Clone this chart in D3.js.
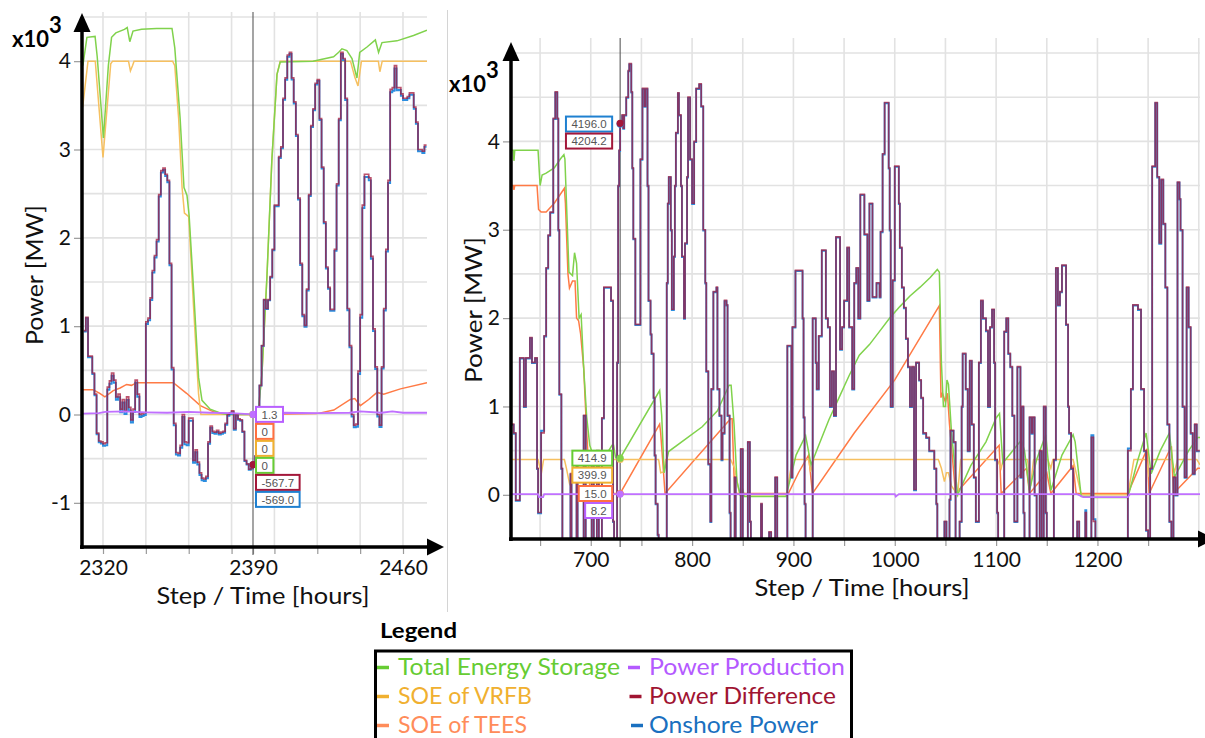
<!DOCTYPE html>
<html>
<head>
<meta charset="utf-8">
<script src="https://cdn.jsdelivr.net/npm/d3@7"></script>
<style>
  body { margin: 0; background: #fff; }
  svg { display: block; }
</style>
</head>
<body>
<svg id="chart" width="1205" height="738"></svg>
<script>
// ---------------------------------------------------------------------------
// Data (MW). Step series: power difference per hour; storage series are
// [hour, MW] breakpoints joined by straight segments.
// Onshore power = power difference - power production.
// ---------------------------------------------------------------------------

// Left panel: hours 2311 .. 2471
const leftStartHour = 2311;
const leftDifference = [
  950, 1100, 660, 660, 470, 230, -210, -300, -310, -330,
  -320, 310, 380, 470, 390, 200, 230, 60, 170, 40,
  200, 80, -60, 60, 390, 230, 0, 10, 20, 1050,
  1090, 1320, 1630, 1800, 1980, 2490, 2760, 2790, 2720, 2650,
  1710, 530, -100, -430, -440, -350, 0, -310, -320, -40,
  -40, -520, -400, -540, -660, -720, -730, -700, -310, -130,
  -190, -200, -180, -210, -200, -190, -100, 0, 20, 40,
  -160, 0, -50, -60, -190, -520, -560, -620, -610, -567.7,
  -470, 0, 330, 780, 1300, 1200, 1300, 1560, 1870, 2370,
  2370, 2920, 3030, 3580, 3810, 4070, 4100, 3810, 3540, 3170,
  2450, 1710, 1130, 1010, 1420, 2490, 3270, 3460, 3750, 3790,
  3350, 2800, 2180, 1670, 1440, 1190, 1190, 1870, 2610, 3350,
  4100, 4030, 3580, 1200, 780, 0, -120, -110, 490, 1130,
  2370, 2720, 2720, 2680, 1790, 970, 540, 0, -120, 540,
  1200, 1870, 2650, 3680, 3700, 3950, 3700, 3700, 3630, 3580,
  3580, 3600, 3640, 3640, 3480, 3310, 3000, 3000, 2980, 3050,
  3050
];
const leftTotal = [
  [2310.6, 3950], [2312.5, 4270], [2316.3, 4280], [2317.3, 4050], [2320.2, 3130],
  [2322.5, 3950], [2324, 4270], [2326, 4320], [2330, 4360], [2331.3, 4380],
  [2332.5, 4220], [2334, 4340], [2338, 4360], [2345, 4370], [2352.2, 4370],
  [2353.5, 4150], [2356, 3350], [2357.8, 2570], [2359.2, 2480], [2360.2, 2250],
  [2362.3, 1400], [2364.6, 420], [2366.2, 160], [2370, 60], [2375, 15],
  [2378, 0], [2390, 0], [2392.3, 0], [2394.2, 470], [2396.5, 1560],
  [2398.8, 2880], [2401.2, 3850], [2402.7, 3990], [2418, 4000], [2427.6, 4050],
  [2430, 4100], [2431.5, 4140], [2433.8, 4120], [2436.2, 4030], [2438.5, 3810],
  [2439.8, 4100], [2443.2, 4160], [2447.1, 4240], [2448.6, 4100], [2450.2, 4210],
  [2457.2, 4230], [2464.9, 4290], [2471.2, 4350]
];
const leftVRFB = [
  [2310.5, 3480], [2313, 4000], [2316.4, 4000], [2320, 2910], [2323.6, 3970],
  [2324.5, 4000], [2331.9, 4000], [2332.8, 3890], [2333.8, 3950], [2334.5, 4000],
  [2352.5, 4000], [2353.5, 3950], [2355.3, 3350], [2356.9, 2570], [2358, 2280],
  [2360, 2240], [2362.3, 1200], [2364.6, 230], [2365.7, 0], [2390, 0],
  [2392.3, 0], [2394.2, 470], [2396.5, 1560], [2398.8, 2880], [2401.2, 3850],
  [2402.7, 4000], [2435.5, 4000], [2437.5, 3820], [2439, 3720], [2440.6, 4000],
  [2448.5, 4000], [2449.2, 3880], [2450.3, 4000], [2471.2, 4000]
];
const leftTEES = [
  [2310.6, 280], [2315.4, 280], [2318.5, 240], [2320.9, 200], [2324.8, 270],
  [2328, 300], [2331, 340], [2333.3, 330], [2335.7, 360], [2352.8, 360],
  [2359, 240], [2365.4, 100], [2371.6, 30], [2377.8, 0], [2390, 0],
  [2419.9, 10], [2427.7, 50], [2435.4, 170], [2437.5, 180], [2440.1, 100],
  [2444, 170], [2447.9, 250], [2451, 230], [2458.8, 290], [2471.2, 360]
];
const leftProduction = [
  [2310.6, 10], [2318, 15], [2321, 30], [2330, 35], [2340, 25], [2350, 20],
  [2360, 30], [2370, 20], [2380, 15], [2388, 5], [2390, 1.3], [2395, 5],
  [2405, 20], [2420, 15], [2435, 20], [2440, 35], [2450, 20], [2455, 35],
  [2460, 20], [2471.2, 20]
];

// Right panel: hours 621 .. 1301
const rightDifference = [
  [621, 800], [624, 700], [626, -60], [630, 1550], [634, 1000], [636, 1550], [640, 1780],
  [642, 1500], [645, 1550], [647, 300], [648, -200], [651, 700], [654, 1800], [656, 2570],
  [658, 2940], [660, 3200], [663, 4260], [665, 4560], [667, 4260], [668, 3000], [669, 1140],
  [671, 300], [672, -700], [680, 240], [681, -700], [686, 430], [687, -700], [693, 900],
  [695, -700], [701, 350], [703, -700], [706, 500], [708, -700], [711, 870], [713, 2350],
  [720, 2200], [722, -300], [723, -700], [726, 1500], [727, 3500], [728, 3900], [729, 4204.2],
  [731, 4300], [732, 4150], [733, 4300], [735, 4500], [737, 4800], [738, 4880], [740, 4560],
  [741, 3700], [742, 2900], [744, 1930], [749, 3800], [751, 4600], [753, 4400], [754, 4600],
  [756, 3500], [757, 2200], [759, 1820], [760, 1600], [762, 1100], [763, 450], [764, -100],
  [766, -450], [767, -700], [775, 2400], [776, 3300], [777, 3600], [779, 3000], [780, 2100],
  [782, 2700], [783, 3500], [784, 4100], [786, 4550], [787, 4300], [789, 3500], [790, 2700],
  [792, 2000], [793, 2850], [795, 3600], [796, 4500], [798, 3800], [800, 3300], [802, 4000],
  [804, 4600], [807, 4650], [809, 4400], [811, 3000], [813, 2400], [814, 1400], [816, 350],
  [818, -300], [819, 1200], [821, 2300], [824, 2350], [825, 1200], [827, 900], [829, 400],
  [830, 700], [832, 2200], [834, 2150], [835, 900], [837, -200], [838, -700], [842, 200],
  [843, -700], [848, 520], [850, -700], [855, 600], [857, -300], [858, -700], [868, -100],
  [869, -700], [876, -420], [878, -700], [882, 200], [884, -700], [894, 1690], [898, 200],
  [899, 1900], [902, 2540], [909, 2000], [910, 880], [911, -100], [912, -700], [919, 2000],
  [922, 1500], [923, 1200], [925, 1800], [928, 2770], [932, 2000], [934, 1900], [936, 1000],
  [938, 1400], [940, 900], [942, 2920], [946, 1650], [948, 1900], [950, 2200], [953, 2800],
  [955, 1900], [958, 1200], [960, 2400], [962, 2570], [964, 2000], [966, 3400], [970, 2950],
  [973, 2200], [975, 3300], [978, 2240], [982, 2400], [985, 2240], [986, 2980], [988, 3860],
  [990, 4440], [994, 3700], [995, 3000], [996, 1000], [998, 2430], [1000, 3720], [1004, 3300],
  [1005, 2800], [1007, 2350], [1009, 2120], [1011, 1770], [1013, 1450], [1015, 1000],
  [1017, 1450], [1019, 60], [1021, 1500], [1024, 1300], [1026, 1100], [1028, 700], [1031, 650],
  [1034, 500], [1037, 500], [1039, 300], [1041, -100], [1042, -700], [1049, -300], [1051, -700],
  [1054, -50], [1055, 730], [1058, 600], [1060, -700], [1064, -300], [1066, 1000], [1067, 1600],
  [1070, 1200], [1072, 500], [1074, 1520], [1076, 800], [1078, 200], [1080, -300], [1083, 1500],
  [1085, 2200], [1087, 2000], [1090, 1860], [1092, 1000], [1094, 1900], [1096, 2100],
  [1098, 1500], [1099, 400], [1101, -200], [1102, -700], [1108, 1850], [1110, 2000],
  [1112, 1600], [1114, 1450], [1116, 900], [1118, -300], [1121, 1450], [1124, 200], [1125, 1000],
  [1127, -200], [1128, -700], [1133, 880], [1135, 700], [1136, 880], [1138, 0], [1140, -700],
  [1143, 500], [1145, -500], [1147, 1000], [1149, -200], [1150, -700], [1157, 400], [1159, 2570],
  [1161, 2150], [1163, 2300], [1165, 2600], [1169, 1930], [1171, 1000], [1172, 700], [1174, 300],
  [1176, -600], [1180, -300], [1182, -700], [1188, -200], [1189, -700], [1194, 650], [1196, -300],
  [1198, -700], [1230, 500], [1233, 1200], [1235, 2150], [1240, 2100], [1243, 1200], [1246, 500],
  [1248, -400], [1250, -500], [1252, 300], [1254, 3720], [1257, 4440], [1259, 3600], [1261, 2850],
  [1263, 3570], [1265, 3070], [1267, 2350], [1269, 800], [1271, -300], [1273, -500], [1275, 200],
  [1277, 0], [1279, 3540], [1281, 3350], [1282, 3000], [1284, 1000], [1286, 200], [1288, 2350],
  [1290, 1900], [1292, 700], [1294, 240], [1296, 800], [1298, 500], [1301, 500]
];
const rightTotal = [
  [621.3, 3900], [623.5, 3900], [624.2, 3780], [625, 3900], [648, 3900], [650, 3500],
  [652, 3620], [656, 3640], [664, 3700], [670, 3800], [673.5, 3850], [674.5, 3800],
  [678.5, 2520], [682, 2480], [684, 2740], [686, 2620], [688.5, 2000], [690.5, 2040],
  [693, 1440], [696, 880], [699, 560], [702, 460], [710, 450], [716, 470], [721, 560],
  [722.5, 560], [724.5, 420], [729, 414.9], [768, 1180], [770, 900], [772.4, 250],
  [776.8, 490], [810, 770], [825, 950], [836.5, 1240], [838.5, 1240], [841.4, 800],
  [844.3, 150], [848, -20], [850, 70], [851.5, -20], [892.7, -20], [902.6, 450], [912, 670],
  [917.4, 340], [925, 560], [935, 850], [945, 1100], [955, 1350], [965, 1580], [975, 1700],
  [985, 1850], [995, 2000], [1005, 2130], [1015, 2250], [1025, 2350], [1035, 2460],
  [1042, 2550], [1044, 2520], [1046, 1500], [1048, 1000], [1050, 1000], [1051.5, 1300],
  [1053, 1250], [1056, 700], [1062, 0], [1075, 330], [1090, 600], [1100, 870],
  [1103.4, 920], [1106.6, 360], [1115, 480], [1125, 620], [1128, 500], [1133, 50],
  [1140, 400], [1149, 680], [1154, 50], [1165, 450], [1176, 680], [1178, 600], [1184, -20],
  [1194, -20], [1195, 50], [1196, -30], [1230, -30], [1240, 400], [1248, 700], [1253, 240],
  [1262, 500], [1271, 700], [1276, 200], [1290, 500], [1299, 650], [1301.2, 650]
];
const rightVRFB = [
  [621.3, 400], [648, 400], [650, 300], [651.5, 260], [653.5, 400], [674, 400], [676, 300],
  [679, 130], [681, 200], [684, 400], [729, 399.9], [767, 400], [769, 250], [772, 260],
  [774, 400], [838, 400], [842, 300], [847, 0], [893, 0], [899, 400], [915, 400], [917, 260],
  [920, 400], [1043, 400], [1046, 300], [1049, 150], [1051, 250], [1053, 250], [1056, 100],
  [1062, 0], [1065, 400], [1101, 400], [1105, 300], [1107, 400], [1131, 400], [1134, 100],
  [1137, 400], [1151, 400], [1154, 300], [1156, 400], [1176, 400], [1184, 0], [1230, 0],
  [1236, 400], [1248, 400], [1251, 200], [1255, 400], [1273, 400], [1276, 250], [1279, 400],
  [1298, 400], [1301.2, 340]
];
const rightTEES = [
  [621.3, 3500], [623.5, 3500], [624.2, 3450], [625, 3500], [647, 3500], [648.5, 3230],
  [651, 3200], [656, 3200], [664, 3300], [674, 3470], [675, 3300], [677.5, 2500], [679, 2340],
  [682, 2420], [684.5, 2420], [686, 2000], [688, 1970], [690, 1820], [693, 1440], [696, 700],
  [699, 100], [701, 15], [729, 15], [768, 800], [769, 700], [773.3, 15], [838, 860],
  [839.5, 860], [842, 15], [895, 15], [905, 250], [915, 450], [918.8, 15], [960, 700],
  [1000, 1300], [1044, 2140], [1045.6, 1100], [1047, 1150], [1050, 1050], [1052, 1150],
  [1054, 800], [1060, 15], [1103, 560], [1105, 15], [1130, 300], [1133, 15], [1150, 250],
  [1154, 15], [1176, 330], [1179, 15], [1230, 15], [1249, 520], [1251, 15], [1273, 550],
  [1275, 15], [1299, 300], [1301.2, 300]
];
const rightProduction = [
  [621.3, 8], [648, 8], [649, -25], [653, -25], [654, 8], [729, 8.2], [760, 8], [1000, 8],
  [1001, -20], [1004, 8], [1180, 8], [1186, -25], [1230, -25], [1232, 8], [1301.2, 8]
];

// Axis ticks and grid
const leftXGrid = d3.range(2320, 2461, 20);
const leftXLabels = [2320, 2390, 2460];
const leftYLabels = [-1, 0, 1, 2, 3, 4];
const leftYGrid = d3.range(-1000, 4501, 500);
const rightXGrid = d3.range(650, 1301, 50);
const rightXLabels = [700, 800, 900, 1000, 1100, 1200];
const rightYLabels = [0, 1, 2, 3, 4];
const rightYGrid = d3.range(0, 5001, 500);

// Cursor positions (hours)
const leftCursor = 2390;
const rightCursor = 729;

// Legend entries
const legendKeys = ['total', 'vrfb', 'tees', 'production', 'difference', 'onshore'];
const legendLabels = ['Total Energy Storage', 'SOE of VRFB', 'SOE of TEES',
                      'Power Production', 'Power Difference', 'Onshore Power'];

// ---------------------------------------------------------------------------
// Styles
// ---------------------------------------------------------------------------
const lineColor = {
  total: '#80d24c', vrfb: '#f6c060', tees: '#ff7a45',
  production: '#c070ff', difference: '#a3173a', onshore: '#2b8ee0'
};
const textColor = {
  total: '#66cc33', vrfb: '#f0b030', tees: '#ff8c5a',
  production: '#b45aff', difference: '#a01432', onshore: '#1a70c0'
};
const boxColor = {
  total: '#66cc33', vrfb: '#f0b030', tees: '#ff7040',
  production: '#b860ff', difference: '#a3173a', onshore: '#1f80d0'
};
const FONT = 'Lato, "Open Sans", sans-serif';

const svg = d3.select('#chart');
svg.append('rect').attr('width', 1205).attr('height', 738).attr('fill', '#fff');

// ---------------------------------------------------------------------------
// Helpers
// ---------------------------------------------------------------------------
const byHour = d3.bisector(d => d[0]);
function linearAt(points, h) {
  const i = byHour.left(points, h);
  if (i < points.length && points[i][0] === h) return points[i][1];
  if (i === 0) return points[0][1];
  if (i >= points.length) return points[points.length - 1][1];
  const a = points[i - 1], b = points[i];
  return a[1] + (b[1] - a[1]) * (h - a[0]) / (b[0] - a[0]);
}
function stepAt(points, h) {
  const i = byHour.right(points, h);
  return points[Math.max(0, i - 1)][1];
}

let clipId = 0;

function drawPanel(p) {
  const x = d3.scaleLinear().domain(p.xDomain).range([p.left, p.right]);
  const y = d3.scaleLinear().domain(p.yDomain).range([p.bottom, p.top]);
  const g = svg.append('g');

  // grid
  g.append('g').selectAll('line').data(p.yGrid).join('line')
    .attr('x1', p.left).attr('x2', p.right)
    .attr('y1', d => y(d)).attr('y2', d => y(d))
    .attr('stroke', '#e2e2e2').attr('stroke-width', 1.6);
  g.append('g').selectAll('line').data(p.xGrid).join('line')
    .attr('x1', d => x(d)).attr('x2', d => x(d))
    .attr('y1', p.gridTop).attr('y2', p.bottom)
    .attr('stroke', '#e2e2e2').attr('stroke-width', 1.6);

  // axes (ticks + labels)
  const styleAxis = s => {
    s.select('.domain').remove();
    s.selectAll('line').attr('stroke', '#9a9a9a').attr('stroke-width', 1.2);
    s.selectAll('text').attr('font-family', FONT).attr('font-size', 21).attr('fill', '#111');
  };
  g.append('g').attr('transform', `translate(0,${p.bottom})`)
    .call(d3.axisBottom(x).tickValues(p.xGrid).tickSize(7).tickPadding(6)
      .tickFormat(d => p.xLabels.includes(d) ? String(d) : ''))
    .call(styleAxis);
  // labels that fall between grid lines (e.g. 2390)
  g.append('g').attr('transform', `translate(0,${p.bottom})`)
    .call(d3.axisBottom(x).tickValues(p.xLabels.filter(v => !p.xGrid.includes(v)))
      .tickSize(7).tickPadding(6).tickFormat(d => String(d)))
    .call(styleAxis);
  g.append('g').attr('transform', `translate(${p.left},0)`)
    .call(d3.axisLeft(y).tickValues(p.yLabels.map(v => v * 1000)).tickSize(8).tickPadding(3)
      .tickFormat(d => String(d / 1000)))
    .call(styleAxis);

  // cursor line
  g.append('line')
    .attr('x1', x(p.cursor)).attr('x2', x(p.cursor))
    .attr('y1', p.gridTop).attr('y2', p.bottom + 8)
    .attr('stroke', '#5a5a5a').attr('stroke-width', 1.1);

  // data lines (clipped to the plot area)
  const id = 'clip' + (clipId++);
  svg.append('defs').append('clipPath').attr('id', id).append('rect')
    .attr('x', p.left).attr('y', p.gridTop)
    .attr('width', p.right - p.left).attr('height', p.bottom - p.gridTop);
  const lg = g.append('g').attr('clip-path', `url(#${id})`);

  const smooth = d3.line().x(d => x(d[0])).y(d => y(d[1]));
  const step = d3.line().x(d => x(d[0])).y(d => y(d[1])).curve(d3.curveStepAfter);

  const onshore = p.difference.map(([h, v]) => [h, v - linearAt(p.production, h)]);

  lg.append('path').attr('d', smooth(p.tees)).attr('fill', 'none')
    .attr('stroke', lineColor.tees).attr('stroke-width', 1.5);
  lg.append('path').attr('d', smooth(p.vrfb)).attr('fill', 'none')
    .attr('stroke', lineColor.vrfb).attr('stroke-width', 1.5);
  lg.append('path').attr('d', smooth(p.total)).attr('fill', 'none')
    .attr('stroke', lineColor.total).attr('stroke-width', 1.5);
  lg.append('path').attr('d', step(onshore)).attr('fill', 'none')
    .attr('stroke', lineColor.onshore).attr('stroke-width', 1.9);
  lg.append('path').attr('d', step(p.difference)).attr('fill', 'none')
    .attr('stroke', lineColor.difference).attr('stroke-width', 1.7).attr('stroke-opacity', 0.74);
  lg.append('path').attr('d', smooth(p.production)).attr('fill', 'none')
    .attr('stroke', lineColor.production).attr('stroke-width', 1.8);

  // axis lines with arrowheads
  g.append('line').attr('x1', p.left).attr('x2', p.left)
    .attr('y1', p.bottom + 2).attr('y2', p.yArrowTip + 16)
    .attr('stroke', '#000').attr('stroke-width', 3.5);
  g.append('path')
    .attr('d', `M${p.left},${p.yArrowTip} L${p.left - 8.5},${p.yArrowTip + 19} L${p.left + 8.5},${p.yArrowTip + 19} Z`)
    .attr('fill', '#000');
  g.append('line').attr('x1', p.left - 2).attr('x2', p.xArrowTip - 14)
    .attr('y1', p.bottom).attr('y2', p.bottom)
    .attr('stroke', '#000').attr('stroke-width', 3.5);
  g.append('path')
    .attr('d', `M${p.xArrowTip},${p.bottom} L${p.xArrowTip - 17},${p.bottom - 8.5} L${p.xArrowTip - 17},${p.bottom + 8.5} Z`)
    .attr('fill', '#000');

  // titles
  g.append('text').text('Step / Time [hours]')
    .attr('x', p.xTitle[0]).attr('y', p.xTitle[1]).attr('text-anchor', 'middle')
    .attr('font-family', FONT).attr('font-size', 23).attr('fill', '#111')
    .attr('textLength', p.xTitle[2]).attr('lengthAdjust', 'spacingAndGlyphs');
  g.append('text').text('Power [MW]')
    .attr('transform', `translate(${p.yTitle[0]},${p.yTitle[1]}) rotate(-90)`)
    .attr('text-anchor', 'middle')
    .attr('font-family', FONT).attr('font-size', 23).attr('fill', '#111')
    .attr('textLength', p.yTitle[2]).attr('lengthAdjust', 'spacingAndGlyphs');
  const mult = g.append('text')
    .attr('x', p.multiplier[0]).attr('y', p.multiplier[1])
    .attr('font-family', FONT).attr('font-size', 22).attr('font-weight', 700).attr('fill', '#000');
  mult.append('tspan').text('x10');
  mult.append('tspan').text('3').attr('dy', -14);

  // cursor readout
  const cx = x(p.cursor);
  const values = {
    difference: stepAt(p.difference, p.cursor),
    onshore: stepAt(onshore, p.cursor),
    production: linearAt(p.production, p.cursor),
    total: linearAt(p.total, p.cursor),
    vrfb: linearAt(p.vrfb, p.cursor),
    tees: linearAt(p.tees, p.cursor)
  };
  ['tees', 'vrfb', 'total', 'onshore', 'difference', 'production'].forEach(k => {
    g.append('circle').attr('cx', cx).attr('cy', y(values[k])).attr('r', 3.6)
      .attr('fill', lineColor[k]);
  });
  let prev = -Infinity;
  p.tipOrder.forEach(k => {
    const v = values[k];
    const cy = Math.max(y(v), prev + 17);
    prev = cy;
    const label = v === 0 ? '0' : v.toFixed(1);
    const tg = g.append('g');
    const rect = tg.append('rect');
    const t = tg.append('text').text(label)
      .attr('font-family', '"Liberation Sans", Arial, sans-serif')
      .attr('font-size', 11.5).attr('fill', '#555');
    const w = t.node().getComputedTextLength() + 11;
    const bx = p.tipSide === 'right' ? cx + 3 : cx - 8 - w;
    rect.attr('x', bx).attr('y', cy - 7.5).attr('width', w).attr('height', 15)
      .attr('fill', '#fff').attr('stroke', boxColor[k]).attr('stroke-width', 2);
    t.attr('x', bx + 5.5).attr('y', cy + 4.2);
  });
}

// ---------------------------------------------------------------------------
// Panels
// ---------------------------------------------------------------------------
drawPanel({
  xDomain: [2310.2, 2471.2], yDomain: [-1500, 4500],
  left: 82, right: 427, top: 17, bottom: 547, gridTop: 12,
  yArrowTip: 13, xArrowTip: 444,
  xGrid: leftXGrid, xLabels: leftXLabels, yGrid: leftYGrid, yLabels: leftYLabels,
  cursor: leftCursor,
  difference: leftDifference.map((v, i) => [leftStartHour + i, v]),
  total: leftTotal, vrfb: leftVRFB, tees: leftTEES, production: leftProduction,
  tipOrder: ['production', 'tees', 'vrfb', 'total', 'difference', 'onshore'],
  tipSide: 'right',
  xTitle: [263, 604, 213], yTitle: [43, 275, 140], multiplier: [12, 47]
});

drawPanel({
  xDomain: [621.3, 1301.2], yDomain: [-500, 5170],
  left: 511, right: 1200, top: 38, bottom: 539, gridTop: 38,
  yArrowTip: 42, xArrowTip: 1215,
  xGrid: rightXGrid, xLabels: rightXLabels, yGrid: rightYGrid, yLabels: rightYLabels,
  cursor: rightCursor,
  difference: rightDifference,
  total: rightTotal, vrfb: rightVRFB, tees: rightTEES, production: rightProduction,
  tipOrder: ['onshore', 'difference', 'total', 'vrfb', 'tees', 'production'],
  tipSide: 'left',
  xTitle: [862, 596, 215], yTitle: [482, 310, 146], multiplier: [449, 92]
});

// panel separator
svg.append('line').attr('x1', 447.5).attr('x2', 447.5).attr('y1', 10).attr('y2', 612)
  .attr('stroke', '#d4d4d4').attr('stroke-width', 1);

// ---------------------------------------------------------------------------
// Legend
// ---------------------------------------------------------------------------
const legendLayout = {
  colDash: [377, 628], colText: [398, 649], rowBase: [675, 704, 733],
  widths: [222, 134, 129, 196, 187, 169]
};
svg.append('text').text('Legend').attr('x', 380).attr('y', 638)
  .attr('font-family', FONT).attr('font-size', 21).attr('font-weight', 700).attr('fill', '#000')
  .attr('textLength', 77).attr('lengthAdjust', 'spacingAndGlyphs');
svg.append('rect').attr('x', 375.5).attr('y', 651).attr('width', 476).attr('height', 110)
  .attr('fill', 'none').attr('stroke', '#000').attr('stroke-width', 3);
const items = svg.append('g').selectAll('g').data(legendKeys).join('g');
items.append('line')
  .attr('x1', (d, i) => legendLayout.colDash[Math.floor(i / 3)] + (i >= 3 ? (i - 3) * 1.5 : 0))
  .attr('x2', (d, i) => legendLayout.colDash[Math.floor(i / 3)] + 12 + (i >= 3 ? (i - 3) * 1.5 : 0))
  .attr('y1', (d, i) => legendLayout.rowBase[i % 3] - 7.5)
  .attr('y2', (d, i) => legendLayout.rowBase[i % 3] - 7.5)
  .attr('stroke', d => textColor[d]).attr('stroke-width', 3.5);
items.append('text').text((d, i) => legendLabels[i])
  .attr('x', (d, i) => legendLayout.colText[Math.floor(i / 3)])
  .attr('y', (d, i) => legendLayout.rowBase[i % 3])
  .attr('font-family', FONT).attr('font-size', 24).attr('fill', d => textColor[d])
  .attr('textLength', (d, i) => legendLayout.widths[i]).attr('lengthAdjust', 'spacingAndGlyphs');
</script>
</body>
</html>
